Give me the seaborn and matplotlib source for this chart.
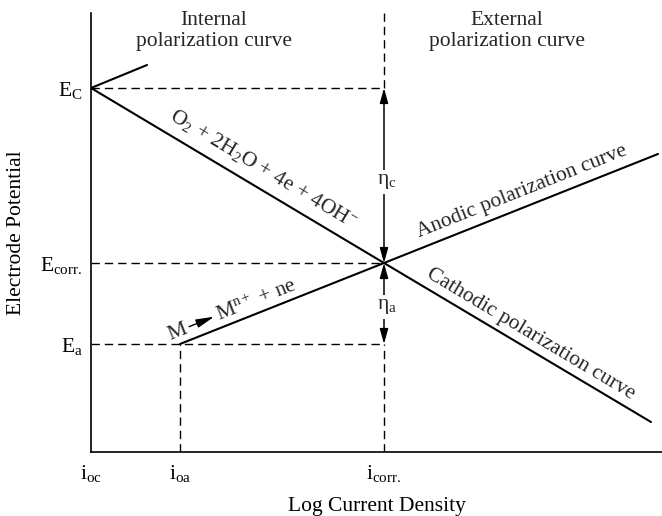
import math
import numpy as np
import pandas as pd
import matplotlib
matplotlib.use("Agg")
import matplotlib.pyplot as plt
import matplotlib.transforms as mtransforms
import seaborn as sns

# --- schematic values (x: log current density, y: electrode potential) ---
x_levels = [0.0, 0.89, 2.93]            # i_oc, i_oa, i_corr
x_labels = ["i$_{\\mathrm{oc}}$", "i$_{\\mathrm{oa}}$", "i$_{\\mathrm{corr.}}$"]
y_levels = [3.64, 1.89, 1.08]           # E_C, E_corr, E_a
y_labels = ["E$_{\\mathrm{C}}$", "E$_{\\mathrm{corr.}}$", "E$_{\\mathrm{a}}$"]

# cathodic (O2 reduction) line: starts at (i_oc, E_C), passes (i_corr, E_corr)
cathodic_x = [0.0, 2.93, 5.60]
cathodic_y = [3.64, 1.89, 0.30]
# anodic (metal dissolution) line: starts at (i_oa, E_a), passes (i_corr, E_corr)
anodic_x = [0.89, 2.93, 5.67]
anodic_y = [1.08, 1.89, 2.98]
# short anodic branch of the oxygen electrode
oxygen_branch_x = [0.0, 0.56]
oxygen_branch_y = [3.64, 3.87]

x_max, y_max = 5.71, 4.39

sns.set_theme(style="ticks")
plt.rcParams["font.family"] = ["Liberation Serif", "DejaVu Sans"]
plt.rcParams["mathtext.fontset"] = "custom"
plt.rcParams["mathtext.rm"] = "Liberation Serif"
plt.rcParams["mathtext.it"] = "Liberation Serif:italic"
plt.rcParams["mathtext.bf"] = "Liberation Serif:bold"

fs = 15.5
fig = plt.figure(figsize=(6.62, 5.16), dpi=100)
ax = fig.add_axes([91 / 662, 64 / 516, 571 / 662, 439 / 516])
ax.set_xlim(0, x_max)
ax.set_ylim(0, y_max)

line_kw = dict(color="black", linewidth=1.5, sort=False, legend=False)
sns.lineplot(x=cathodic_x, y=cathodic_y, ax=ax, **line_kw)
sns.lineplot(x=anodic_x, y=anodic_y, ax=ax, **line_kw)
sns.lineplot(x=oxygen_branch_x, y=oxygen_branch_y, ax=ax, **line_kw)

# dashed guide lines
dash_kw = dict(color="black", linewidth=1.0, dashes=(6, 3.6))
i_oc, i_oa, i_corr = x_levels
E_C, E_corr, E_a = y_levels
ax.plot([i_oc, i_corr], [E_C, E_C], **dash_kw)
ax.plot([i_oc, i_corr], [E_corr, E_corr], **dash_kw)
ax.plot([i_oc, i_corr], [E_a, E_a], **dash_kw)
ax.plot([i_oa, i_oa], [0, E_a], **dash_kw)
ax.plot([i_corr, i_corr], [E_C, y_max], **dash_kw)
ax.plot([i_corr, i_corr], [0, E_a], **dash_kw)

# overpotential arrows
arrow_kw = dict(arrowstyle="<|-|>,head_length=0.9,head_width=0.25",
                color="black", lw=1.1, mutation_scale=10, shrinkA=0, shrinkB=0)
ax.annotate("", xy=(i_corr, E_C), xytext=(i_corr, E_corr), arrowprops=arrow_kw)
ax.annotate("", xy=(i_corr, E_corr), xytext=(i_corr, E_a), arrowprops=arrow_kw)
box = dict(facecolor="white", edgecolor="none", pad=1.5)
ax.text(i_corr + 0.03, 2.70, "η$_{\\mathrm{c}}$", fontsize=fs, ha="center",
        va="center", bbox=box)
ax.text(i_corr + 0.03, 1.45, "η$_{\\mathrm{a}}$", fontsize=fs, ha="center",
        va="center", bbox=box)

# labels along the curves
cat_angle = math.degrees(math.atan2(cathodic_y[1] - cathodic_y[0],
                                    cathodic_x[1] - cathodic_x[0]))
an_angle = math.degrees(math.atan2(anodic_y[1] - anodic_y[0],
                                   anodic_x[1] - anodic_x[0]))
ax.text(1.72, 2.83,
        "O$_{\\mathrm{2}}$ + 2H$_{\\mathrm{2}}$O + 4e + 4OH$^{-}$",
        fontsize=fs, rotation=cat_angle, rotation_mode="anchor",
        ha="center", va="center")

# metal dissolution label "M -> M^n+ + ne", laid along the anodic line:
# the product part starts at the anchor, the reactant and the reaction
# arrow sit before it, measured in pixels along the line direction
anchor = (1.28, 1.313)
rad = math.radians(an_angle)
ux, uy = math.cos(rad), math.sin(rad)
nx, ny = -uy, ux


def along(d, h=0.0):
    return mtransforms.offset_copy(ax.transData, fig=fig,
                                   x=d * ux + h * nx, y=d * uy + h * ny,
                                   units="dots")


ax.text(*anchor, "M$^{\\mathrm{n+}}$ + ne", fontsize=fs, rotation=an_angle,
        rotation_mode="anchor", ha="left", va="baseline", transform=along(0))
ax.text(*anchor, "M", fontsize=fs, rotation=an_angle,
        rotation_mode="anchor", ha="right", va="baseline",
        transform=along(-33))
p0 = ax.transData.transform(anchor)
tail = (p0[0] - 30 * ux + 5.5 * nx, p0[1] - 30 * uy + 5.5 * ny)
tip = (p0[0] - 3 * ux + 5.5 * nx, p0[1] - 3 * uy + 5.5 * ny)
ax.annotate("", xy=tip, xytext=tail, xycoords="figure pixels",
            textcoords="figure pixels",
            arrowprops=dict(arrowstyle="-|>,head_length=1.1,head_width=0.26",
                            color="black", lw=1.0, mutation_scale=10,
                            shrinkA=0, shrinkB=0))

ax.text(4.31, 2.60, "Anodic polarization curve", fontsize=fs,
        rotation=an_angle, rotation_mode="anchor", ha="center", va="center")
ax.text(4.40, 1.18, "Cathodic polarization curve", fontsize=fs,
        rotation=cat_angle, rotation_mode="anchor", ha="center", va="center")

# region headings
ax.text(1.23, 4.21, "Internal\npolarization curve", fontsize=fs,
        ha="center", va="center", linespacing=1.2)
ax.text(4.16, 4.21, "External\npolarization curve", fontsize=fs,
        ha="center", va="center", linespacing=1.2)

ax.set_xticks(x_levels, x_labels)
ax.set_yticks(y_levels, y_labels)
ax.tick_params(length=0, labelsize=fs, colors="black")
ax.tick_params(axis="x", pad=8)
ax.tick_params(axis="y", pad=6)
ax.set_xlabel("Log Current Density", fontsize=fs, labelpad=9, color="black")
ax.set_ylabel("Electrode Potential", fontsize=fs, labelpad=10, color="black")

sns.despine(ax=ax)
for side in ("left", "bottom"):
    ax.spines[side].set_linewidth(1.2)
    ax.spines[side].set_color("black")

fig.savefig("out.png", dpi=100, facecolor="white")
